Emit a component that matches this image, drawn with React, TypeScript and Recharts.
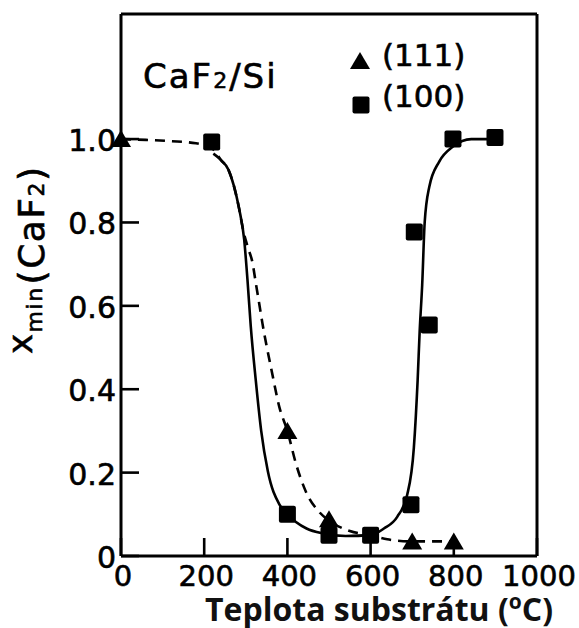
import React from 'react';
import { ComposedChart, Line, Scatter, XAxis, YAxis } from 'recharts';

// measured points, (111) triangles and (100) squares
const TEMP_111 = [0, 400, 500, 700, 800];
const CHI_111 = [1.0, 0.3, 0.088, 0.035, 0.035];
const TEMP_100 = [218, 400, 500, 600, 697, 705, 741, 798, 899];
const CHI_100 = [0.993, 0.1, 0.05, 0.05, 0.123, 0.777, 0.554, 1.0, 1.004];

// guide curves
const FIT_111_T = [0, 60, 120, 180, 222, 240, 258, 271, 284, 294, 305, 316, 324, 332, 340, 362, 381, 400, 421, 445, 477, 500, 550, 600, 640, 700, 800];
const FIT_111_V = [1.0, 0.998, 0.995, 0.99, 0.975, 0.95, 0.927, 0.889, 0.833, 0.78, 0.74, 0.704, 0.655, 0.607, 0.558, 0.445, 0.356, 0.3, 0.22, 0.153, 0.105, 0.085, 0.06, 0.05, 0.04, 0.035, 0.035];
const FIT_100_T = [222, 240, 258, 271, 284, 296, 304, 312, 324, 337, 353, 381, 400, 446, 486, 540, 600, 632, 664, 688, 704, 713, 718, 724, 730, 741, 765, 798, 842, 900];
const FIT_100_V = [0.965, 0.95, 0.927, 0.889, 0.833, 0.76, 0.663, 0.55, 0.421, 0.3, 0.203, 0.123, 0.1, 0.066, 0.054, 0.048, 0.05, 0.066, 0.094, 0.147, 0.26, 0.42, 0.54, 0.65, 0.8, 0.885, 0.946, 0.982, 1.0, 1.0];

const X_MAJOR = [0, 200, 400, 600, 800, 1000];
const X_MINOR = [100, 300, 500, 700, 900];
const Y_MAJOR = [0, 0.2, 0.4, 0.6, 0.8, 1.0];
const Y_MINOR = [0.1, 0.3, 0.5, 0.7, 0.9];

const FONT = '"DejaVu Sans", sans-serif';

const zip = (xs: number[], ys: number[]) => xs.map((x, i) => ({ x, y: ys[i] }));

const pts111 = zip(TEMP_111, CHI_111);
const pts100 = zip(TEMP_100, CHI_100);
const fit111 = zip(FIT_111_T, FIT_111_V);
const fit100 = zip(FIT_100_T, FIT_100_V);

const fmtY = (v: number) => (v === 0 ? '0' : v.toFixed(1));

const labelStyle = { fontFamily: FONT, fill: '#000', stroke: '#000', strokeWidth: 0.6 };
const tickStroke = { stroke: '#000', strokeWidth: 2.6 };
const frame = { stroke: '#000', strokeWidth: 3 };

const X_MAJ_LEN = 18;
const Y_MAJ_LEN = 18;

// mirrored axes put the tick marks inside the frame; labels are shifted back outside
function BottomLabel(props: any) {
  const { x, y, payload } = props;
  return (
    <text x={x + 2} y={y + X_MAJ_LEN + 30} textAnchor="middle" fontSize={29} {...labelStyle}>
      {payload.value}
    </text>
  );
}

function LeftLabel(props: any) {
  const { x, y, payload } = props;
  return (
    <text x={x - Y_MAJ_LEN - 5} y={y + 12} textAnchor="end" fontSize={30} {...labelStyle}>
      {fmtY(payload.value)}
    </text>
  );
}

const NoLabel = () => <g />;

function Tri({ cx, cy }: any) {
  return <polygon points={`${cx},${cy - 9} ${cx + 10},${cy + 8} ${cx - 10},${cy + 8}`} fill="#000" />;
}

function Sq({ cx, cy }: any) {
  return <rect x={cx - 8.5} y={cy - 8.5} width={17} height={17} rx={2} fill="#000" />;
}

export default function App() {
  return (
    <div style={{ position: 'absolute', left: 0, top: 0, width: 579, height: 628, background: '#fff' }}>
      <svg width={579} height={628} style={{ position: 'absolute', left: 0, top: 0 }}>
        <text x={143} y={88} fontSize={34} letterSpacing={2} {...labelStyle}>
          CaF<tspan fontSize={22}>2</tspan>/Si
        </text>
        <g>
          <Tri cx={360} cy={61} />
          <text x={382} y={66} fontSize={31} {...labelStyle}>(111)</text>
          <Sq cx={361} cy={105} />
          <text x={382} y={107} fontSize={31} {...labelStyle}>(100)</text>
        </g>
        <text transform="translate(44, 354) rotate(-90)" fontSize={36} letterSpacing={1.5} {...labelStyle}>
          <tspan dy={-12} fontSize={34}>x</tspan>
          <tspan dy={10} fontSize={22}>min</tspan>
          <tspan dy={2} dx={2}>(CaF</tspan>
          <tspan fontSize={22}>2</tspan>
          <tspan>)</tspan>
        </text>
        <text x={205} y={621} fontFamily='"Open Sans", sans-serif' fontWeight={700} fontSize={32} fill="#111">
          Teplota substrátu (<tspan fontSize={21} dy={-12}>o</tspan>
          <tspan dy={12}>C)</tspan>
        </text>
      </svg>
      <ComposedChart width={579} height={628} margin={{ top: 14, right: 42, bottom: 72, left: 121 }}>
        <XAxis
          xAxisId="b"
          dataKey="x"
          type="number"
          domain={[0, 1000]}
          ticks={X_MAJOR}
          interval={0}
          height={1}
          mirror
          tickSize={X_MAJ_LEN}
          tickMargin={0}
          tickLine={tickStroke}
          axisLine={frame}
          tick={<BottomLabel />}
        />
        <XAxis
          xAxisId="b2"
          dataKey="x"
          type="number"
          domain={[0, 1000]}
          ticks={X_MINOR}
          interval={0}
          height={1}
          mirror
          tickSize={10}
          tickLine={tickStroke}
          axisLine={false}
          tick={<NoLabel />}
        />
        <XAxis
          xAxisId="t"
          dataKey="x"
          orientation="top"
          type="number"
          domain={[0, 1000]}
          ticks={X_MAJOR}
          interval={0}
          height={1}
          mirror
          tickSize={20}
          tickLine={tickStroke}
          axisLine={frame}
          tick={<NoLabel />}
        />
        <XAxis
          xAxisId="t2"
          dataKey="x"
          orientation="top"
          type="number"
          domain={[0, 1000]}
          ticks={X_MINOR}
          interval={0}
          height={1}
          mirror
          tickSize={9}
          tickLine={tickStroke}
          axisLine={false}
          tick={<NoLabel />}
        />
        <YAxis
          yAxisId="l"
          dataKey="y"
          type="number"
          domain={[0, 1.3]}
          ticks={Y_MAJOR}
          interval={0}
          width={1}
          mirror
          tickSize={Y_MAJ_LEN}
          tickMargin={0}
          tickLine={tickStroke}
          axisLine={frame}
          tick={<LeftLabel />}
        />
        <YAxis
          yAxisId="l2"
          dataKey="y"
          type="number"
          domain={[0, 1.3]}
          ticks={Y_MINOR}
          interval={0}
          width={1}
          mirror
          tickSize={10}
          tickLine={tickStroke}
          axisLine={false}
          tick={<NoLabel />}
        />
        <YAxis
          yAxisId="r"
          dataKey="y"
          orientation="right"
          type="number"
          domain={[0, 1.3]}
          ticks={Y_MAJOR}
          interval={0}
          width={1}
          mirror
          tickSize={19}
          tickLine={tickStroke}
          axisLine={frame}
          tick={<NoLabel />}
        />
        <YAxis
          yAxisId="r2"
          dataKey="y"
          orientation="right"
          type="number"
          domain={[0, 1.3]}
          ticks={Y_MINOR}
          interval={0}
          width={1}
          mirror
          tickSize={8}
          tickLine={tickStroke}
          axisLine={false}
          tick={<NoLabel />}
        />
        <Line
          xAxisId="b"
          yAxisId="l"
          data={fit111}
          dataKey="y"
          type="monotone"
          stroke="#000"
          strokeWidth={2.6}
          strokeDasharray="10 7"
          dot={false}
          isAnimationActive={false}
        />
        <Line
          xAxisId="b"
          yAxisId="l"
          data={fit100}
          dataKey="y"
          type="monotone"
          stroke="#000"
          strokeWidth={2.6}
          dot={false}
          isAnimationActive={false}
        />
        <Scatter xAxisId="b" yAxisId="l" name="(111)" data={pts111} dataKey="y" shape={Tri} isAnimationActive={false} />
        <Scatter xAxisId="b" yAxisId="l" name="(100)" data={pts100} dataKey="y" shape={Sq} isAnimationActive={false} />
      </ComposedChart>
    </div>
  );
}
